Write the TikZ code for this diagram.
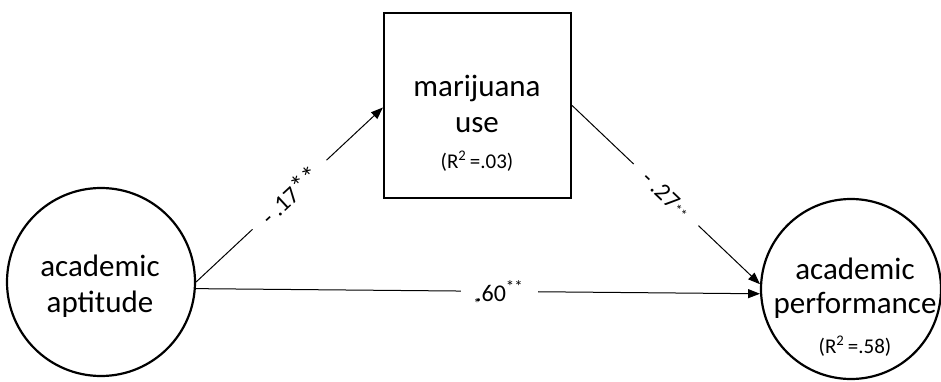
\documentclass[tikz,border=0pt]{standalone}
\usepackage{fontspec}
\setmainfont{Carlito}
\usetikzlibrary{arrows.meta}
\tikzset{
  circ/.style={circle,draw,line width=2.2pt,inner sep=0pt},
  box/.style={rectangle,draw,line width=2.2pt,inner sep=0pt,minimum width=187pt,minimum height=185pt},
  big/.style={font=\fontsize{31}{36}\selectfont,inner sep=0pt,anchor=base},
  small/.style={font=\fontsize{21}{24}\selectfont,inner sep=0pt,anchor=base},
  arr/.style={-{Triangle[length=12pt,width=9pt]},line width=1pt},
  coef/.style={fill=white,font=\fontsize{24}{26}\selectfont,inner ysep=2pt,inner xsep=15pt},
}
\begin{document}
\begin{tikzpicture}[x=1pt,y=-1pt]
\useasboundingbox (0,0) rectangle (941,382);
% shapes
\node[circ,minimum size=188pt] (apt) at (101,282) {};
\node[box] (mar) at (477.5,105.5) {};
\node[circ,minimum size=180pt] (perf) at (851,289) {};
% texts
\node[big] (apt1) at (100,276) {academic};
\node[big] (apt2) at (100,312) {aptitude};
\node[big] (mar1) at (477,97) {marijuana};
\node[big] (mar2) at (477,133) {use};
\node[small] (mar3) at (477,168) {(R\textsuperscript{2}\,=.03)};
\node[big] (perf1) at (855,279) {academic};
\node[big] (perf2) at (855,313) {performance};
\node[small] (perf3) at (855,353) {(R\textsuperscript{2}\,=.58)};
% connectors
\draw[arr] (apt.east) -- ([yshift=-2pt]mar.west)
  node[coef,pos=0.5,rotate=42.8] (c1) {- .17{\fontsize{28}{28}\selectfont **}};
\draw[arr] (mar.east) -- (perf.177)
  node[coef,pos=0.5,rotate=-43.6,inner xsep=16pt] (c2) {- .27{\fontsize{14}{14}\selectfont **}};
\draw[arr] (apt.-4) -- (perf.183)
  node[coef,pos=0.538,inner xsep=15pt] (c3) {.60\textsuperscript{**}};
\node[font=\fontsize{14}{14}\selectfont,inner sep=0pt] (star) at (477,304) {*};
\end{tikzpicture}
\end{document}
